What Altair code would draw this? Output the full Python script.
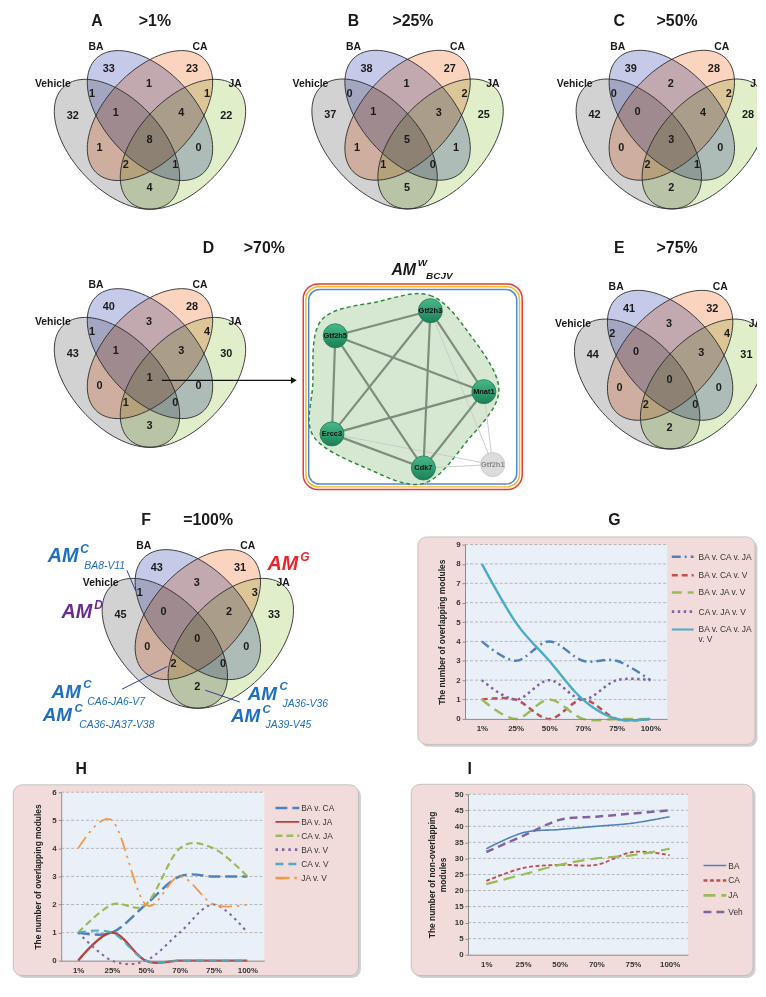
import altair as alt
import numpy as np
import pandas as pd

FONT = "Liberation Sans"

# ---------------------------------------------------------------- Venn counts
REGIONS = ["V", "BA", "CA", "JA", "V_BA", "BA_CA", "CA_JA", "V_BA_CA",
           "BA_CA_JA", "ALL", "V_CA", "BA_JA", "V_CA_JA", "V_BA_JA", "V_JA"]
VENN_A = [32, 33, 23, 22, 1, 1, 1, 1, 4, 8, 1, 0, 2, 1, 4]
VENN_B = [37, 38, 27, 25, 0, 1, 2, 1, 3, 5, 1, 1, 1, 0, 5]
VENN_C = [42, 39, 28, 28, 0, 2, 2, 0, 4, 3, 0, 0, 2, 1, 2]
VENN_D = [43, 40, 28, 30, 1, 3, 4, 1, 3, 1, 0, 0, 1, 0, 3]
VENN_E = [44, 41, 32, 31, 2, 3, 4, 0, 3, 0, 0, 0, 2, 0, 2]
VENN_F = [45, 43, 31, 33, 1, 3, 3, 0, 2, 0, 0, 0, 2, 0, 2]
SET_NAMES = ["Vehicle", "BA", "CA", "JA"]
SET_FILLS = ["#d2d2d2", "#c5cae9", "#fbd4c0", "#e0eec9"]

# ---------------------------------------------------------------- line charts
PCTS = ["1%", "25%", "50%", "70%", "75%", "100%"]

G_SERIES = ["BA v. CA v. JA", "BA v. CA v. V", "BA v. JA v. V", "CA v. JA v. V", "BA v. CA v. JA v. V"]
G_BA_CA_JA = [4, 3, 4, 3, 3, 2]
G_BA_CA_V = [1, 1, 0, 1, 0, 0]
G_BA_JA_V = [1, 0, 1, 0, 0, 0]
G_CA_JA_V = [2, 1, 2, 1, 2, 2]
G_BA_CA_JA_V = [8, 5, 3, 1, 0, 0]

H_SERIES = ["BA v. CA", "BA v. JA", "CA v. JA", "BA v. V", "CA v. V", "JA v. V"]
H_BA_CA = [1, 1, 2, 3, 3, 3]
H_BA_JA = [0, 1, 0, 0, 0, 0]
H_CA_JA = [1, 2, 2, 4, 4, 3]
H_BA_V = [1, 0, 0, 1, 2, 1]
H_CA_V = [1, 1, 0, 0, 0, 0]
H_JA_V = [4, 5, 2, 3, 2, 2]

I_SERIES = ["BA", "CA", "JA", "Veh"]
I_BA = [33, 38, 39, 40, 41, 43]
I_CA = [23, 27, 28, 28, 32, 31]
I_JA = [22, 25, 28, 30, 31, 33]
I_VEH = [32, 37, 42, 43, 44, 45]

# ---------------------------------------------------------------- network
NET_NODES = ["Gtf2h3", "Gtf2h5", "Mnat1", "Ercc3", "Cdk7", "Gtf2h1"]
NET_IN_MODULE = [True, True, True, True, True, False]
NET_STRONG = [("Gtf2h3", "Gtf2h5"), ("Gtf2h3", "Mnat1"), ("Gtf2h3", "Ercc3"), ("Gtf2h3", "Cdk7"),
              ("Gtf2h5", "Mnat1"), ("Gtf2h5", "Ercc3"), ("Gtf2h5", "Cdk7"), ("Mnat1", "Ercc3"),
              ("Mnat1", "Cdk7"), ("Ercc3", "Cdk7")]
NET_WEAK = [("Gtf2h3", "Gtf2h1"), ("Mnat1", "Gtf2h1"), ("Ercc3", "Gtf2h1"), ("Cdk7", "Gtf2h1")]

# ================================================================ layout (page px)
PAGE_W, PAGE_H = 756, 972          # drawing size (svg px); svg px = page px - 8
OFF = 8

NET_X = [434.3, 338.3, 488.3, 335.0, 427.3, 497.3]
NET_Y = [309.0, 334.3, 390.7, 433.3, 467.7, 464.3]
HULL = [(434, 293.5), (472, 330), (503.5, 389), (471, 441), (427, 483.5), (370, 468),
        (316.5, 436), (315.5, 385), (324, 319), (383, 299.5)]

V_SX, V_SY = 222.0, 230.0
V_A, V_B = 0.35, 0.20
ELL_R = 100.0
ELL_SIZE = (2 * ELL_R) ** 2
# ellipse centres, px offsets from each panel's anchor (screen y down)
ELL_OFF = {"Vehicle": (-33.3, 33.0), "BA": (0.0, 4.0), "CA": (0.0, 4.0), "JA": (33.3, 33.0)}
ELL_ANGLE = {"Vehicle": -45, "BA": -45, "CA": 45, "JA": 45}

REGION_OFF = {
    "V": (-78, 4), "BA": (-41.5, -43), "CA": (42.5, -43), "JA": (77, 4),
    "V_BA": (-58.5, -17.5), "BA_CA": (-1, -28), "CA_JA": (57.5, -17.5),
    "V_BA_CA": (-34.5, 1), "BA_CA_JA": (31.5, 1.5), "ALL": (-0.5, 29),
    "V_CA": (-51, 37), "BA_JA": (49, 37), "V_CA_JA": (-24.5, 54), "V_BA_JA": (25.5, 54), "V_JA": (-0.5, 77.5),
}
SET_LABEL_OFF = {"Vehicle": (-98, -28), "BA": (-54.5, -65), "CA": (50.5, -65), "JA": (86, -28)}

BLUE = "#1f6fc0"
RED = "#e8262b"
PURPLE = "#6a2c91"

XS = alt.Scale(domain=[OFF, OFF + PAGE_W], nice=False, zero=False)
YS = alt.Scale(domain=[OFF, OFF + PAGE_H], nice=False, zero=False, reverse=True)


def xy(xf="x", yf="y"):
    return dict(x=alt.X(f"{xf}:Q", scale=XS, axis=None), y=alt.Y(f"{yf}:Q", scale=YS, axis=None))


def ellipse_path(angle):
    t = np.linspace(0, 2 * np.pi, 96, endpoint=False)
    th = np.radians(angle)
    ux = V_A * np.cos(t) * np.cos(th) - V_B * np.sin(t) * np.sin(th)
    uy = V_A * np.cos(t) * np.sin(th) + V_B * np.sin(t) * np.cos(th)
    px = ux * V_SX / ELL_R
    py = -uy * V_SY / ELL_R
    return "M" + " L".join(f"{a:.4f},{b:.4f}" for a, b in zip(px, py)) + " Z"


ELL_PATHS = [ellipse_path(ELL_ANGLE[s]) for s in SET_NAMES]
SHAPE = alt.Shape("set:N", scale=alt.Scale(domain=SET_NAMES, range=ELL_PATHS), legend=None)


def venn_layers(counts, anchor, titles, clip=False):
    ax, ay = anchor
    ell = pd.DataFrame({"set": SET_NAMES,
                        "x": [ax + ELL_OFF[s][0] for s in SET_NAMES],
                        "y": [ay + ELL_OFF[s][1] for s in SET_NAMES]})
    fills = alt.Chart(ell).mark_point(filled=True, opacity=1, size=ELL_SIZE, strokeWidth=0,
                                      blend="multiply", clip=clip).encode(
        **xy(), shape=SHAPE,
        fill=alt.Fill("set:N", scale=alt.Scale(domain=SET_NAMES, range=SET_FILLS), legend=None))
    outlines = alt.Chart(ell).mark_point(filled=False, opacity=1, size=ELL_SIZE, stroke="#2b2b2b",
                                         strokeWidth=0.9, clip=clip).encode(**xy(), shape=SHAPE)
    cnt = pd.DataFrame({"region": REGIONS, "n": [str(c) for c in counts],
                        "x": [ax + REGION_OFF[r][0] for r in REGIONS],
                        "y": [ay + REGION_OFF[r][1] for r in REGIONS]})
    nums = alt.Chart(cnt).mark_text(fontSize=11, fontWeight="bold", color="#1a1a1a", clip=clip).encode(
        **xy(), text="n:N")
    lab = pd.DataFrame({"label": SET_NAMES,
                        "x": [ax + SET_LABEL_OFF[s][0] for s in SET_NAMES],
                        "y": [ay + SET_LABEL_OFF[s][1] for s in SET_NAMES]})
    labels = alt.Chart(lab).mark_text(fontSize=10.5, fontWeight="bold", color="#1a1a1a", clip=clip).encode(
        **xy(), text="label:N")
    tdf = pd.DataFrame({"t": [t for t, _, _ in titles],
                        "x": [ax + dx for _, dx, _ in titles],
                        "y": [ay + dy for _, _, dy in titles]})
    tl = alt.Chart(tdf).mark_text(fontSize=16, fontWeight="bold", color="#1a1a1a").encode(**xy(), text="t:N")
    return [fills, outlines, nums, labels, tl]


def d_arrow():
    seg = pd.DataFrame({"x": [163.3], "y": [379.3], "x2": [294.5], "y2": [379.3]})
    line = alt.Chart(seg).mark_rule(color="#111", strokeWidth=1.1).encode(**xy(), x2="x2:Q", y2="y2:Q")
    head = alt.Chart(pd.DataFrame({"x": [296.5], "y": [379.3]})).mark_point(
        shape="triangle-right", filled=True, size=45, color="#111", opacity=1).encode(**xy())
    return [line, head]


F_NOTES_MAIN = [("AM", 48, 557, 20, BLUE), ("C", 81, 550, 12, BLUE),
                ("AM", 270, 565, 20, RED), ("G", 303, 558, 12, RED),
                ("AM", 62, 613, 20, PURPLE), ("D", 95, 606, 12, PURPLE),
                ("AM", 52, 693.5, 19, BLUE), ("C", 84, 687, 11.5, BLUE),
                ("AM", 43, 717.5, 19, BLUE), ("C", 75, 711.5, 11.5, BLUE),
                ("AM", 250, 695.5, 19, BLUE), ("C", 282, 689, 11.5, BLUE),
                ("AM", 233, 718, 19, BLUE), ("C", 265, 712, 11.5, BLUE)]
F_NOTES_SUB = [("BA8-V11", 85, 566.5), ("CA6-JA6-V7", 88, 703.5), ("CA36-JA37-V38", 80, 727),
               ("JA36-V36", 285, 705.5), ("JA39-V45", 268, 727.5)]
F_LINKS = [(128, 571, 137, 592), (123, 691, 169, 668), (207, 692, 242, 704)]


def f_notes():
    m = pd.DataFrame(F_NOTES_MAIN, columns=["t", "x", "y", "fs", "col"])
    main = alt.Chart(m).mark_text(align="left", baseline="middle", fontWeight="bold", fontStyle="italic").encode(
        **xy(), text="t:N", size=alt.Size("fs:Q", scale=None), color=alt.Color("col:N", scale=None))
    s = pd.DataFrame(F_NOTES_SUB, columns=["t", "x", "y"])
    sub = alt.Chart(s).mark_text(align="left", baseline="middle", fontStyle="italic", fontSize=10.5,
                                 color=BLUE).encode(**xy(), text="t:N")
    lk = pd.DataFrame(F_LINKS, columns=["x", "y", "x2", "y2"])
    links = alt.Chart(lk).mark_rule(color="#2a3f9a", strokeWidth=1).encode(**xy(), x2="x2:Q", y2="y2:Q")
    return [links, main, sub]


def hull_path(cx, cy, R):
    P = [((x - cx) / R, (y - cy) / R) for x, y in HULL]
    n = len(P)
    d = f"M{P[0][0]:.4f},{P[0][1]:.4f}"
    for i in range(n):
        p0, p1, p2, p3 = P[i - 1], P[i], P[(i + 1) % n], P[(i + 2) % n]
        c1 = (p1[0] + (p2[0] - p0[0]) / 6, p1[1] + (p2[1] - p0[1]) / 6)
        c2 = (p2[0] - (p3[0] - p1[0]) / 6, p2[1] - (p3[1] - p1[1]) / 6)
        d += f" C{c1[0]:.4f},{c1[1]:.4f} {c2[0]:.4f},{c2[1]:.4f} {p2[0]:.4f},{p2[1]:.4f}"
    return d + " Z"


def network_layers():
    layers = []
    frames = [("#e8373a", 306.0, 282.0, 527.0, 489.5, 15), ("#f6bb1f", 308.7, 284.7, 524.3, 486.8, 13),
              ("#4f8ad6", 311.5, 287.5, 521.5, 484.0, 11)]
    for col, x0, y0, x1, y1, r in frames:
        fr = pd.DataFrame({"x": [x0], "y": [y0], "x2": [x1], "y2": [y1]})
        layers.append(alt.Chart(fr).mark_rect(filled=False, stroke=col, strokeWidth=1.5, cornerRadius=r).encode(
            **xy(), x2="x2:Q", y2="y2:Q"))
    cx, cy, R = 410.0, 390.0, 100.0
    hp = hull_path(cx, cy, R)
    layers.append(alt.Chart(pd.DataFrame({"x": [cx], "y": [cy]})).mark_point(
        shape=hp, size=(2 * R) ** 2, filled=True, fill="#d6e8d1", stroke="#2f8a3e", strokeWidth=1.5,
        strokeDash=[4, 3], opacity=1).encode(**xy()))
    pos = {n: (x, y) for n, x, y in zip(NET_NODES, NET_X, NET_Y)}
    for edges, col, sw in [(NET_WEAK, "#c9cbc9", 1.0), (NET_STRONG, "#7e8e7d", 2.2)]:
        e = pd.DataFrame({"x": [pos[a][0] for a, b in edges], "y": [pos[a][1] for a, b in edges],
                          "x2": [pos[b][0] for a, b in edges], "y2": [pos[b][1] for a, b in edges]})
        layers.append(alt.Chart(e).mark_rule(color=col, strokeWidth=sw).encode(**xy(), x2="x2:Q", y2="y2:Q"))
    nd = pd.DataFrame({"name": NET_NODES, "x": NET_X, "y": NET_Y, "mod": NET_IN_MODULE})
    grad = alt.Gradient(gradient="linear", x1=0, x2=0, y1=0, y2=1,
                        stops=[alt.GradientStop(color="#48b98a", offset=0),
                               alt.GradientStop(color="#1c8056", offset=1)])
    layers.append(alt.Chart(nd).transform_filter("datum.mod").mark_circle(
        size=590, opacity=1, fill=grad, stroke="#1d7a52", strokeWidth=0.8).encode(**xy()))
    layers.append(alt.Chart(nd).transform_filter("!datum.mod").mark_circle(
        size=590, opacity=1, fill="#dcdcdc", stroke="#c4c4c4", strokeWidth=0.8).encode(**xy()))
    layers.append(alt.Chart(nd).transform_filter("datum.mod").mark_text(
        fontSize=7.5, fontWeight="bold", color="#101010").encode(**xy(), text="name:N"))
    layers.append(alt.Chart(nd).transform_filter("!datum.mod").mark_text(
        fontSize=7.5, fontWeight="bold", color="#8a8a8a").encode(**xy(), text="name:N"))
    tt = pd.DataFrame([("AM", 395.0, 268.0, 16), ("W", 421.5, 261.0, 10), ("BCJV", 430.0, 274.0, 10)],
                      columns=["t", "x", "y", "fs"])
    layers.append(alt.Chart(tt).mark_text(align="left", baseline="middle", fontWeight="bold",
                                          fontStyle="italic", color="#1a1a1a").encode(
        **xy(), text="t:N", size=alt.Size("fs:Q", scale=None)))
    return layers


PINK = "#f2dcdb"
PLOTBG = "#eaf0f8"
ONE = pd.DataFrame({"k": [0]})
LEGEND_WRAP = {"BA v. CA v. JA v. V": ["BA v. CA v. JA", "v. V"]}


def s(v):  # page px -> drawing px
    return v - OFF


def line_panel(series, values, colors, dashes, widths, ymax, ystep, plot, ytitle, title_pad,
               box, legend, letter):
    px0, py0, px1, py1 = [s(v) for v in plot]
    rows = [{"pct": p, "series": sname, "value": v} for sname in series for p, v in zip(PCTS, values[sname])]
    df = pd.DataFrame(rows)
    ysc = alt.Scale(domain=[0, ymax], range=[py1, py0], nice=False, zero=True)
    xsc = alt.Scale(type="point", domain=PCTS, range=[px0, px1], padding=0.5)
    yaxis = alt.Axis(orient="left", offset=-px0, values=list(range(0, ymax + 1, ystep)), grid=False,
                     domainColor="#8c8c8c", tickColor="#8c8c8c", tickSize=3, labelFontSize=8,
                     labelFontWeight="bold", labelColor="#333333", labelPadding=2, title=ytitle,
                     titleFontSize=8.5, titleFontWeight="bold", titleColor="#222222",
                     titlePadding=title_pad, zindex=1)
    xaxis = alt.Axis(orient="bottom", offset=py1 - PAGE_H, labelAngle=0, ticks=False, domainColor="#8c8c8c",
                     labelFontSize=8, labelFontWeight="bold", labelColor="#333333", labelPadding=6,
                     title=None, zindex=1)
    bx0, by0, bx1, by1 = [s(v) for v in box]
    layers = [
        alt.Chart(ONE).mark_rect(fill="#c4c4c4", cornerRadius=9, opacity=0.8).encode(
            x=alt.value(bx0 + 2.5), x2=alt.value(bx1 + 2.5), y=alt.value(by0 + 2.5), y2=alt.value(by1 + 2.5)),
        alt.Chart(ONE).mark_rect(fill=PINK, stroke="#b8b8b8", strokeWidth=0.8, cornerRadius=9).encode(
            x=alt.value(bx0), x2=alt.value(bx1), y=alt.value(by0), y2=alt.value(by1)),
        alt.Chart(ONE).mark_rect(fill=PLOTBG).encode(
            x=alt.value(px0), x2=alt.value(px1), y=alt.value(py0), y2=alt.value(py1)),
        alt.Chart(pd.DataFrame({"value": list(range(ystep, ymax + 1, ystep))})).mark_rule(
            color="#a8a8a8", strokeDash=[3, 2], strokeWidth=0.8).encode(
            x=alt.value(px0), x2=alt.value(px1), y=alt.Y("value:Q", scale=ysc, axis=yaxis)),
        alt.Chart(df).mark_line(interpolate="cardinal").encode(
            x=alt.X("pct:N", sort=PCTS, scale=xsc, axis=xaxis),
            y=alt.Y("value:Q", scale=ysc, axis=yaxis),
            color=alt.Color("series:N", scale=alt.Scale(domain=series, range=colors), legend=None),
            strokeDash=alt.StrokeDash("series:N", scale=alt.Scale(domain=series, range=dashes), legend=None),
            strokeWidth=alt.StrokeWidth("series:N", scale=alt.Scale(domain=series, range=widths), legend=None)),
    ]
    lx, lys, llen, tx, lfs = legend
    for sname, c, d, sw, ly in zip(series, colors, dashes, widths, lys):
        layers.append(alt.Chart(ONE).mark_rule(color=c, strokeDash=d, strokeWidth=sw).encode(
            x=alt.value(s(lx)), x2=alt.value(s(lx + llen)), y=alt.value(s(ly))))
        for k, txt in enumerate(LEGEND_WRAP.get(sname, [sname])):
            layers.append(alt.Chart(ONE).mark_text(align="left", baseline="middle", fontSize=lfs,
                                                   color="#333333").encode(
                x=alt.value(s(tx)), y=alt.value(s(ly + k * 10)), text=alt.value(txt)))
    lt, lxp, lyp = letter
    layers.append(alt.Chart(ONE).mark_text(fontSize=16, fontWeight="bold", color="#1a1a1a").encode(
        x=alt.value(s(lxp)), y=alt.value(s(lyp)), text=alt.value(lt)))
    return alt.layer(*layers)


# ---------------------------------------------------------------- page (Venn + network)
page = []
page += venn_layers(VENN_A, (151.3, 108.0), [("A", -53.6, -91), (">1%", 5, -91)])
page += venn_layers(VENN_B, (411.3, 107.7), [("B", -54.6, -91), (">25%", 5.4, -91)])
page += venn_layers(VENN_C, (678.0, 107.7), [("C", -53, -91), (">50%", 5.3, -91)], clip=True)
page += venn_layers(VENN_D, (151.3, 348.3), [("D", 59, -102.6), (">70%", 115.4, -102.6)])
page += d_arrow()
page += network_layers()
page += venn_layers(VENN_E, (676.3, 350.0), [("E", -51.3, -104.3), (">75%", 7, -104.3)], clip=True)
page += venn_layers(VENN_F, (199.6, 611.7), [("F", -52.3, -91.7), ("=100%", 10.4, -91.7)])
page += f_notes()
page_layer = alt.layer(*page)

pG = line_panel(G_SERIES,
                {G_SERIES[0]: G_BA_CA_JA, G_SERIES[1]: G_BA_CA_V, G_SERIES[2]: G_BA_JA_V,
                 G_SERIES[3]: G_CA_JA_V, G_SERIES[4]: G_BA_CA_JA_V},
                ["#4f81bd", "#c0504d", "#9bbb59", "#8064a2", "#4bacc6"],
                [[9, 4, 2, 4], [6, 4], [10, 6], [2.5, 3.5], [1, 0]],
                [2.5, 2.5, 2.5, 2.8, 2.0],
                9, 1, (469.3, 545, 673.3, 721), "The number of overlapping modules", 9,
                (421.7, 537.3, 762, 746.7),
                (678, [557.3, 576, 593.3, 612.7, 630.7], 22, 705, 8.5),
                ("G", 620, 520))

pH = line_panel(H_SERIES,
                {H_SERIES[0]: H_BA_CA, H_SERIES[1]: H_BA_JA, H_SERIES[2]: H_CA_JA,
                 H_SERIES[3]: H_BA_V, H_SERIES[4]: H_CA_V, H_SERIES[5]: H_JA_V},
                ["#4f81bd", "#b8403b", "#9bbb59", "#8064a2", "#4bacc6", "#f79646"],
                [[12, 5], [1, 0], [7, 4], [2.5, 4], [8, 5], [14, 5, 2.5, 5, 2.5, 5]],
                [2.5, 1.8, 2.5, 2.8, 2.5, 2.5],
                6, 1, (61.7, 795, 266.7, 965), "The number of overlapping modules", 9,
                (13.3, 787.5, 361.7, 980),
                (278, [811, 825, 839, 853, 867.5, 881.5], 24, 304, 8.5),
                ("H", 82, 772))

pI = line_panel(I_SERIES,
                {I_SERIES[0]: I_BA, I_SERIES[1]: I_CA, I_SERIES[2]: I_JA, I_SERIES[3]: I_VEH},
                ["#4f81bd", "#c0504d", "#9bbb59", "#8064a2"],
                [[1, 0], [4, 2.5], [12, 6], [8, 5]],
                [1.6, 2.5, 2.8, 2.5],
                50, 5, (472.3, 797, 694.3, 959), ["The number of non-overlapping", "modules"], 7,
                (415, 787, 760, 980),
                (710, [869, 884, 899, 916], 23, 735, 8.5),
                ("I", 474, 772))

chart = alt.layer(page_layer, pG, pH, pI).resolve_scale(
    x="independent", y="independent", color="independent",
    strokeDash="independent", strokeWidth="independent", size="independent",
    shape="independent", fill="independent"
).properties(width=PAGE_W, height=PAGE_H, padding=0).configure(font=FONT).configure_view(stroke=None)

chart.save("out.html", embed_options={"renderer": "svg", "actions": False})
